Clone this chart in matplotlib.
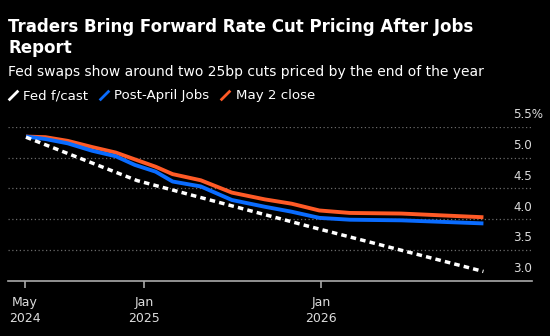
import matplotlib
matplotlib.use("Agg")
import matplotlib.pyplot as plt
from matplotlib.lines import Line2D
import pandas as pd

# values (%)
fed_dates = ["2024-05-03", "2024-12-18", "2025-12-10", "2026-12-01"]
fed_fcast = [5.33, 4.625, 3.875, 3.15]

swap_dates = ["2024-05-03", "2024-06-12", "2024-07-28", "2024-09-16", "2024-11-04",
              "2024-12-13", "2025-01-25", "2025-03-01", "2025-04-28", "2025-07-01",
              "2025-09-07", "2025-11-01", "2025-12-28", "2026-03-01", "2026-06-15",
              "2026-12-01"]
post_april = [5.34, 5.30, 5.23, 5.11, 5.02, 4.88, 4.77, 4.61, 4.53, 4.31,
              4.20, 4.12, 4.02, 3.99, 3.98, 3.93]
may2_close = [5.34, 5.33, 5.27, 5.17, 5.08, 4.97, 4.85, 4.73, 4.63, 4.43,
              4.32, 4.25, 4.14, 4.10, 4.09, 4.03]

yticks = [3.0, 3.5, 4.0, 4.5, 5.0, 5.5]
xtick_dates = ["2024-05-01", "2025-01-01", "2026-01-01"]
xtick_labels = ["May\n2024", "Jan\n2025", "Jan\n2026"]

RED = "#ff5a26"
BLUE = "#0a6cff"
BG = "black"

plt.rcParams['font.family'] = ['DejaVu Sans']

fig = plt.figure(figsize=(5.5, 3.36), dpi=100, facecolor=BG)
W, H = 550, 336
ax = fig.add_axes([8 / W, 1 - 280.7 / H, (532 - 8) / W, (280.7 - 126.7) / H])
ax.set_facecolor(BG)

fd = pd.to_datetime(fed_dates)
sd = pd.to_datetime(swap_dates)

ax.plot(sd, may2_close, color=RED, lw=2.8, solid_capstyle='butt', zorder=3)
ax.plot(sd, post_april, color=BLUE, lw=2.8, solid_capstyle='butt', zorder=4)
ax.plot(fd, fed_fcast, color="white", lw=2.5, linestyle=(0, (1.6, 1.2)),
        dash_capstyle='butt', zorder=5)

ax.set_ylim(3.0, 5.5)
ax.set_xlim(pd.Timestamp("2024-03-27"), pd.Timestamp("2027-03-11"))

# gridlines
for v in yticks[1:]:
    ax.axhline(v, color="#6a6a6a", lw=0.9, linestyle=(0, (1, 2)), zorder=1)

for s in ["top", "right", "left"]:
    ax.spines[s].set_visible(False)
ax.spines["bottom"].set_color("#aaaaaa")
ax.spines["bottom"].set_linewidth(1.2)

ax.set_yticks([])
ax.set_xticks(pd.to_datetime(xtick_dates))
ax.set_xticklabels(xtick_labels, fontsize=9, linespacing=1.35)
ax.tick_params(axis="x", colors="#aaaaaa", length=5, width=1.2, pad=6,
               labelcolor="#dcdcdc")

# y labels above the gridlines on the right
for v in yticks:
    lab = f"{v:.1f}" + ("%" if v == 5.5 else "")
    ax.annotate(lab, xy=(513 / W, v), xycoords=("figure fraction", "data"),
                xytext=(0, 4), textcoords="offset points",
                ha="left", va="bottom", color="#dcdcdc", fontsize=8.6)

fig.text(8 / W, 1 - 18 / H, "Traders Bring Forward Rate Cut Pricing After Jobs\nReport",
         color="white", fontsize=12, fontweight="bold", va="top", ha="left",
         linespacing=1.2)
fig.text(8 / W, 1 - 76 / H, "Fed swaps show around two 25bp cuts priced by the end of the year",
         color="white", fontsize=10, va="baseline", ha="left")

slash = [(-1, -1), (1, 1)]
handles = [
    Line2D([], [], marker=slash, linestyle="None", markersize=7,
           markeredgewidth=2.0, markeredgecolor=c)
    for c in ["white", BLUE, RED]
]
leg = fig.legend(handles, ["Fed f/cast", "Post-April Jobs", "May 2 close"],
                 loc="center left", bbox_to_anchor=(8 / W, 1 - 96 / H), ncol=3,
                 frameon=False, handlelength=0.7, handletextpad=0.45,
                 columnspacing=0.8, fontsize=9.6, borderaxespad=0, borderpad=0)
for t in leg.get_texts():
    t.set_color("white")

fig.savefig("out.png", dpi=100, facecolor=BG)
